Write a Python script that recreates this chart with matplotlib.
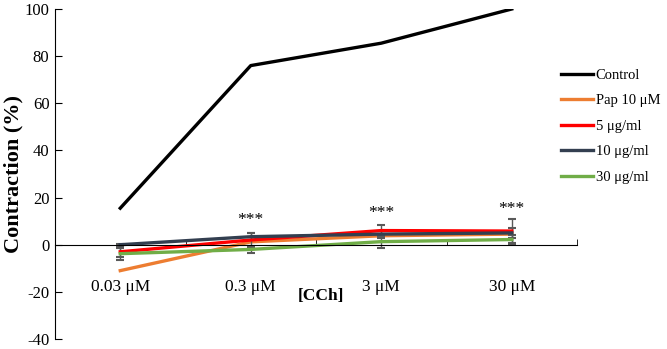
import numpy as np
import matplotlib
matplotlib.use("Agg")
import matplotlib.pyplot as plt
from matplotlib.lines import Line2D

# categories on the x axis
doses = ["0.03 μM", "0.3 μM", "3 μM", "30 μM"]

# % contraction
control = [15.5, 76, 85.5, 100]
pap = [-11, 1.2, 3.8, 4.5]
ext5 = [-3, 2, 6, 5.8]
ext10 = [0, 3.4, 4.5, 5]
ext30 = [-3.8, -2, 1.3, 2.2]

# SEM (approx.)
err5 = [2.2, 3, 2.5, 5]
err10 = [0.5, 1.5, 1.5, 2]
err30 = [2.5, 1.5, 2.5, 2]

stars = ["", "***", "***", "***"]
star_y = [0, 10.5, 13.5, 15]

names = ["Control", "Pap 10 μM", "5 μg/ml", "10 μg/ml", "30 μg/ml"]
colors = ["black", "#ED7D31", "#FF0000", "#333F50", "#70AD47"]

plt.rcParams["font.family"] = ["Liberation Serif", "DejaVu Serif"]
plt.rcParams["axes.unicode_minus"] = False

fig = plt.figure(figsize=(6.67, 3.49), dpi=100)
ax = fig.add_axes([55 / 667, 10 / 349, 522 / 667, 330 / 349])

x = np.arange(len(doses))
lw = 2.4
ax.plot(x, control, color=colors[0], lw=lw)
ax.plot(x, pap, color=colors[1], lw=lw)
for vals, err, c in zip([ext5, ext10, ext30], [err5, err10, err30], colors[2:]):
    ax.errorbar(x, vals, yerr=err, color=c, lw=lw, ecolor="#595959",
                elinewidth=1, capsize=3, capthick=1.5)

for xi, s, yi in zip(x, stars, star_y):
    if s:
        ax.text(xi, yi, s, ha="center", va="center", fontsize=12.5)

ax.set_xlim(-0.5, 3.5)
ax.set_ylim(-40, 100)
ax.set_yticks(np.arange(-40, 101, 20))
ax.tick_params(axis="y", direction="in", length=5, labelsize=12, pad=4)

ax.spines["top"].set_visible(False)
ax.spines["right"].set_visible(False)
ax.spines["bottom"].set_position(("data", 0))

ax.set_xticks(x)
ax.set_xticklabels(doses, fontsize=12.5)
ax.set_xticks(np.arange(-0.5, 3.6, 1), minor=True)
ax.tick_params(axis="x", which="major", length=0, pad=25)
ax.tick_params(axis="x", which="minor", direction="in", length=4)

ax.set_ylabel("Contraction (%)", fontsize=16, fontweight="bold", labelpad=1)
ax.text(0.51, 0.13, "[CCh]", transform=ax.transAxes, ha="center", va="center",
        fontsize=12.5, fontweight="bold")

handles = [Line2D([], [], color=c, lw=lw) for c in colors]
fig.legend(handles, names, loc="upper left", bbox_to_anchor=(555 / 667, 1 - 63 / 349),
           frameon=False, fontsize=10.5, handlelength=2.2, handletextpad=0.2,
           labelspacing=0.84, borderaxespad=0)

fig.savefig("out.png", dpi=100)
